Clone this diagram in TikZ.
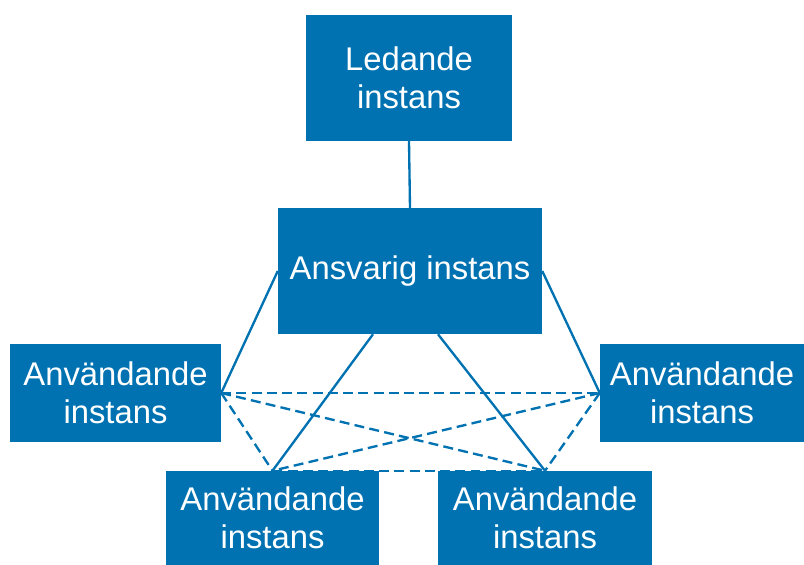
\documentclass[tikz,border=0pt]{standalone}
\usepackage{fontspec}
\setmainfont{Liberation Sans}
\usetikzlibrary{calc, positioning}
\definecolor{instblue}{RGB}{0,114,178}

\begin{document}
\begin{tikzpicture}[
		x=0.03cm, y=-0.03cm,
		inst/.style = {fill=instblue, text=white, align=center, inner sep=0pt,
			font=\fontsize{28}{32}\selectfont},
		link/.style = {draw=instblue, line width=2pt},
		peer/.style = {draw=instblue, line width=2pt, dash pattern=on 8.5pt off 4.5pt}
	]
	\useasboundingbox (0,0) rectangle (804,565);

	\node[inst, minimum width=6.18cm, minimum height=3.78cm] (leda) at (409,78) {Ledande\\instans};
	\node[inst, minimum width=7.92cm, minimum height=3.78cm] (ansv) at (410,271) {Ansvarig instans};
	\node[inst, minimum width=6.33cm, minimum height=2.94cm] (left) at (115.5,393) {Användande\\instans};
	\node[inst, minimum width=6.12cm, minimum height=2.94cm] (right) at (702,393) {Användande\\instans};
	\node[inst, minimum width=6.39cm, minimum height=2.82cm] (botl) at (272.5,518) {Användande\\instans};
	\node[inst, minimum width=6.42cm, minimum height=2.82cm] (botr) at (545,518) {Användande\\instans};

	% foot points on the lower edge of the responsible instance
	\coordinate (ansvl) at ($(ansv.south)+(-37,0)$);
	\coordinate (ansvr) at ($(ansv.south)+(28,0)$);

	\draw[link] (leda.south) -- (ansv.north);
	\draw[link] (ansv.west) -- (left.east);
	\draw[link] (ansv.east) -- (right.west);
	\draw[link] (ansvl) -- (botl.north);
	\draw[link] (ansvr) -- (botr.north);

	\draw[peer] (left.east) -- (right.west);
	\draw[peer] (left.east) -- (botl.north);
	\draw[peer] (left.east) -- (botr.north);
	\draw[peer] (right.west) -- (botl.north);
	\draw[peer] (right.west) -- (botr.north);
	\draw[peer] (botl.north) -- (botr.north);
\end{tikzpicture}
\end{document}
